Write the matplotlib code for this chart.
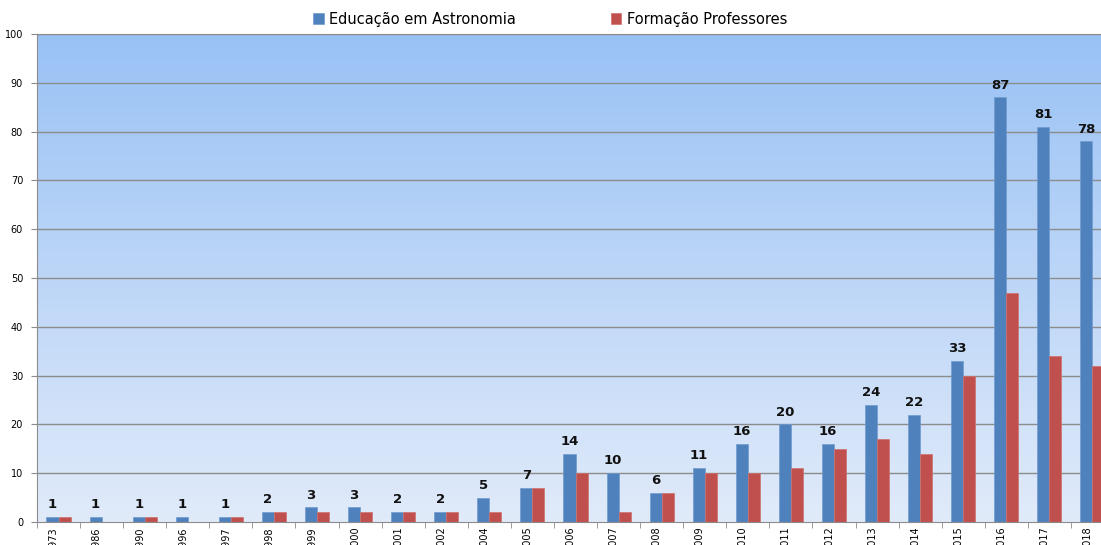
import numpy as np
import matplotlib.pyplot as plt

anos = ['1973', '1986', '1990', '1996', '1997', '1998', '1999', '2000', '2001', '2002',
        '2004', '2005', '2006', '2007', '2008', '2009', '2010', '2011', '2012', '2013',
        '2014', '2015', '2016', '2017', '2018']
educacao = [1, 1, 1, 1, 1, 2, 3, 3, 2, 2, 5, 7, 14, 10, 6, 11, 16, 20, 16, 24, 22, 33, 87, 81, 78]
formacao = [1, 0, 1, 0, 1, 2, 2, 2, 2, 2, 2, 7, 10, 2, 6, 10, 10, 11, 15, 17, 14, 30, 47, 34, 32]

fig = plt.figure(figsize=(11.01, 5.45), dpi=100)
ax = fig.add_axes([37 / 1101, 23 / 545, 1077 / 1101, 488 / 545])

x = np.arange(len(anos))
w = 0.28

# gradient background
top = np.array([0.60, 0.76, 0.96])
bot = np.array([0.88, 0.92, 0.98])
t = np.linspace(0, 1, 256)[:, None]
grad = (top * (1 - t) + bot * t)[:, None, :]
ax.imshow(grad, extent=[-0.5, len(anos) - 0.5, 0, 100], aspect='auto', zorder=0)

for yv in range(10, 101, 10):
    ax.axhline(yv, color='#8c8c8c', linewidth=1.0, zorder=1)

b1 = ax.bar(x - w / 2, educacao, w, color='#4f81bd', edgecolor='#6f9bd0', linewidth=0.5,
            label='Educação em Astronomia', zorder=2)
b2 = ax.bar(x + w / 2, formacao, w, color='#c0504d', edgecolor='#d0706d', linewidth=0.5,
            label='Formação Professores', zorder=2)

for xi, v in zip(x, educacao):
    ax.text(xi - w / 2, v + 1.2, str(v), ha='center', va='bottom', fontsize=9.5,
            fontweight='bold', color='#111111')

ax.set_xlim(-0.5, len(anos) - 0.5)
ax.set_ylim(0, 100)
ax.set_yticks(range(0, 101, 10))
ax.tick_params(axis='y', labelsize=7, length=4, color='#8c8c8c', pad=6)
ax.set_xticks(np.arange(-0.5, len(anos), 1), minor=True)
ax.set_xticks(x - 0.12)
ax.set_xticklabels(anos, rotation=90, fontsize=7, va='top')
ax.tick_params(axis='x', which='major', length=0, pad=3)
ax.tick_params(axis='x', which='minor', length=4, color='#8c8c8c')

ax.spines['right'].set_visible(False)
for s in ['left', 'bottom', 'top']:
    ax.spines[s].set_color('#8c8c8c')

fig.legend(handles=[b1, b2], loc='center', bbox_to_anchor=(0.5, 0.965), ncol=2,
           frameon=False, fontsize=10.5, handlelength=0.7, handleheight=0.7,
           columnspacing=6.5, handletextpad=0.4)

fig.savefig('out.png', dpi=100)
